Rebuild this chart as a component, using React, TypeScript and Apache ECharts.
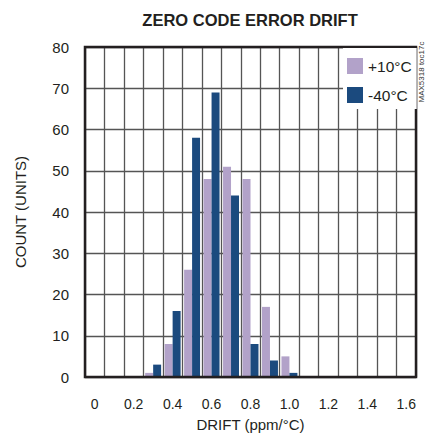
import React, { useEffect, useRef } from "react";
import * as echarts from "echarts";

const categories = ["0", "0.1", "0.2", "0.3", "0.4", "0.5", "0.6", "0.7", "0.8", "0.9", "1.0", "1.1", "1.2", "1.3", "1.4", "1.5", "1.6"];
const plus10 = [0, 0, 0, 1, 8, 26, 48, 51, 48, 17, 5, 0, 0, 0, 0, 0, 0];
const minus40 = [0, 0, 0, 3, 16, 58, 69, 44, 8, 4, 1, 0, 0, 0, 0, 0, 0];
const seriesNames = ["+10°C", "-40°C"];
const yTicks = { min: 0, max: 80, interval: 10 };

const FONT = '"Liberation Sans", Arial, sans-serif';
const TEXT = "#231f20";

export default function App() {
  const ref = useRef<HTMLDivElement>(null);
  useEffect(() => {
    if (!ref.current) return;
    const chart = echarts.init(ref.current, undefined, { renderer: "svg" });
    chart.setOption({
      animation: false,
      backgroundColor: "#ffffff",
      textStyle: { fontFamily: FONT, color: TEXT },
      grid: {
        left: 85,
        right: 11,
        top: 47,
        bottom: 59,
        show: true,
        borderColor: TEXT,
        borderWidth: 2.5,
        backgroundColor: "transparent",
        z: 3,
      },
      legend: {
        orient: "vertical",
        left: 343,
        top: 48,
        padding: [10, 5, 6, 4],
        itemGap: 13,
        itemWidth: 16,
        itemHeight: 16,
        icon: "rect",
        backgroundColor: "#ffffff",
        textStyle: { fontFamily: FONT, fontSize: 15.5, color: TEXT },
        data: seriesNames,
      },
      xAxis: {
        type: "category",
        data: categories,
        boundaryGap: true,
        name: "DRIFT (ppm/°C)",
        nameLocation: "middle",
        nameGap: 40,
        nameTextStyle: { fontFamily: FONT, fontSize: 15, color: TEXT },
        axisLine: { show: false },
        axisTick: { show: false },
        axisLabel: { interval: 1, fontFamily: FONT, fontSize: 14, color: TEXT, margin: 20 },
        splitLine: { show: true, interval: 0, lineStyle: { color: "#555", width: 1.3 } },
      },
      yAxis: {
        type: "value",
        min: yTicks.min,
        max: yTicks.max,
        interval: yTicks.interval,
        name: "COUNT (UNITS)",
        nameLocation: "middle",
        nameGap: 57,
        nameTextStyle: { fontFamily: FONT, fontSize: 15, color: TEXT },
        axisLine: { show: false },
        axisTick: { show: false },
        axisLabel: { fontFamily: FONT, fontSize: 15, color: TEXT, margin: 16 },
        splitLine: { show: true, lineStyle: { color: "#555", width: 1.3 } },
      },
      series: [
        {
          name: seriesNames[0],
          type: "bar",
          data: plus10,
          barGap: "0%",
          barCategoryGap: "18%",
          itemStyle: { color: "#b2a2c9" },
        },
        {
          name: seriesNames[1],
          type: "bar",
          data: minus40,
          barGap: "0%",
          barCategoryGap: "18%",
          itemStyle: { color: "#1b4a7e" },
        },
      ],
      graphic: [
        {
          type: "text",
          x: 250,
          y: 20,
          style: {
            text: "ZERO CODE ERROR DRIFT",
            align: "center",
            verticalAlign: "middle",
            font: `bold 16.5px ${FONT}`,
            fill: TEXT,
          },
        },
        {
          type: "text",
          x: 421,
          y: 72,
          rotation: Math.PI / 2,
          style: {
            text: "MAX5318 toc17c",
            align: "center",
            verticalAlign: "middle",
            font: `8px ${FONT}`,
            fill: "#333",
          },
        },
      ],
    });
    return () => chart.dispose();
  }, []);
  return <div ref={ref} style={{ position: "fixed", left: 0, top: 0, width: 427, height: 437 }} />;
}
